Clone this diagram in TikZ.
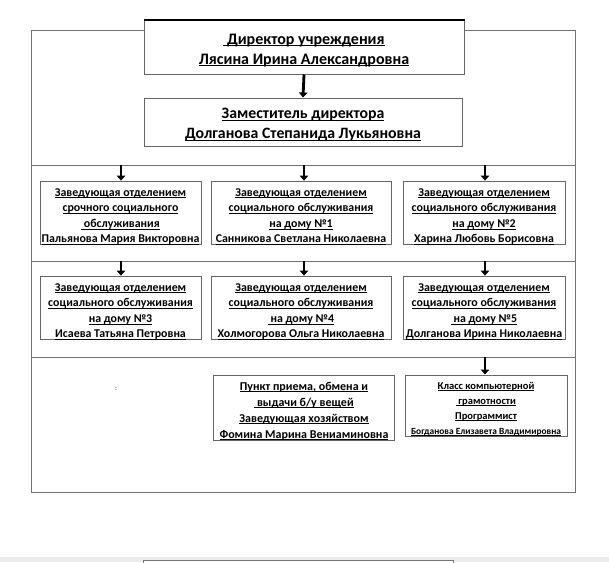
\documentclass[tikz,border=0pt]{standalone}
\usepackage{fontspec}
\setmainfont{Carlito}
\usetikzlibrary{arrows.meta}
\newcommand\ul[1]{\underline{\raisebox{0pt}[\height][0pt]{#1}}}
\newcommand\ts[1]{\rule{0pt}{#1}}
\tikzset{
  frameline/.style={draw=black!55, line width=1pt},
  orgbox/.style={draw=black!60, line width=1pt, fill=white, rectangle, align=center,
     inner sep=0pt, font=\bfseries, text=black},
  arr/.style={line width=2.8pt, -{Triangle[width=8.5pt,length=5pt]}},
}
\begin{document}
\begin{tikzpicture}[x=1pt,y=-1pt]
\useasboundingbox (0,0) rectangle (609,562);
% bottom gray band and partial box
\fill[black!8] (0,557) rectangle (609,562);
\draw[draw=black!55, line width=1pt, fill=white] (143,560) rectangle (453,575);
% outer frame
\draw[frameline] (31,30) rectangle (575,492);
\draw[frameline] (31,165) -- (575,165);
\draw[frameline] (31,261) -- (575,261);
\draw[frameline] (31,357) -- (575,357);

% director
\node[orgbox, minimum width=320pt, minimum height=54pt, font=\bfseries\fontsize{16}{20}\selectfont] (dir) at (304,47)
  {\ts{16pt}\ul{\ Директор учреждения}\\ \ul{Лясина Ирина Александровна}};
\draw[line width=2pt] (dir.north west) -- (dir.north east);

\node[orgbox, minimum width=318pt, minimum height=48pt, font=\bfseries\fontsize{15.8}{20}\selectfont] (dep) at (303,122)
  {\ts{15pt}\ul{Заместитель директора}\\ \ul{Долганова Степанида Лукьяновна}};
\draw[arr] (dir.south) -- (dep.north);

\tikzset{rowtxt/.style={font=\bfseries\fontsize{11.9}{15.6}\selectfont}}
% row 1
\node[orgbox, rowtxt, minimum width=161pt, minimum height=60pt] (b1) at (120.5,213)
  {\ts{15pt}\ul{Заведующая отделением}\\ \ul{срочного социального}\\ \ul{\ обслуживания}\\ \ul{Пальянова Мария Викторовна}};
\node[orgbox, rowtxt, minimum width=180pt, minimum height=60pt] (b2) at (301,213)
  {\ts{15pt}\ul{Заведующая отделением}\\ \ul{социального обслуживания}\\ \ul{на дому №1}\\ \ul{Санникова Светлана Николаевна}};
\node[orgbox, rowtxt, minimum width=162pt, minimum height=60pt] (b3) at (484,213)
  {\ts{15pt}\ul{Заведующая отделением}\\ \ul{социального обслуживания}\\ \ul{на дому №2}\\ \ul{Харина Любовь Борисовна}};
% row 2
\node[orgbox, rowtxt, minimum width=161pt, minimum height=60pt] (b4) at (120.5,308)
  {\ts{15pt}\ul{Заведующая отделением}\\ \ul{социального обслуживания}\\ \ul{на дому №3}\\ \ul{Исаева Татьяна Петровна}};
\node[orgbox, rowtxt, minimum width=180pt, minimum height=60pt] (b5) at (301,308)
  {\ts{15pt}\ul{Заведующая отделением}\\ \ul{социального обслуживания}\\ \ul{\ на дому №4}\\ \ul{Холмогорова Ольга Николаевна}};
\node[orgbox, rowtxt, minimum width=162pt, minimum height=60pt] (b6) at (484,308)
  {\ts{15pt}\ul{Заведующая отделением}\\ \ul{социального обслуживания}\\ \ul{\ на дому №5}\\ \ul{Долганова Ирина Николаевна}};
% row 3
\node[orgbox, minimum width=181pt, minimum height=59pt, font=\bfseries\fontsize{12}{16}\selectfont] (b7) at (304,407.5)
  {\ts{15pt}\ul{Пункт приема, обмена и}\\ \ul{\ выдачи б/у вещей}\\ \ul{Заведующая хозяйством}\\ \ul{Фомина Марина Вениаминовна}};
\node[orgbox, minimum width=162pt, minimum height=57pt, font=\bfseries\fontsize{10.5}{15}\selectfont] (b8) at (486,405.5)
  {\ts{14pt}\ul{Класс компьютерной}\\ \ul{\ грамотности}\\ \ul{Программист}\\ {\fontsize{9.4}{12}\selectfont\ul{Богданова Елизавета Владимировна}}};

\node[font=\fontsize{7}{8}\selectfont, inner sep=0pt] (dot) at (116,389) {:};

% arrow start points on separator lines
\coordinate (s1) at (121,165);
\coordinate (s2) at (304,165);
\coordinate (s3) at (485,165);
\coordinate (s4) at (121,261);
\coordinate (s5) at (304,261);
\coordinate (s6) at (485,261);
\coordinate (s8) at (485,357);
\draw[arr] (s1) -- (s1 |- b1.north);
\draw[arr] (s2) -- (s2 |- b2.north);
\draw[arr] (s3) -- (s3 |- b3.north);
\draw[arr] (s4) -- (s4 |- b4.north);
\draw[arr] (s5) -- (s5 |- b5.north);
\draw[arr] (s6) -- (s6 |- b6.north);
\draw[arr] (s8) -- (s8 |- b8.north);
\end{tikzpicture}
\end{document}
